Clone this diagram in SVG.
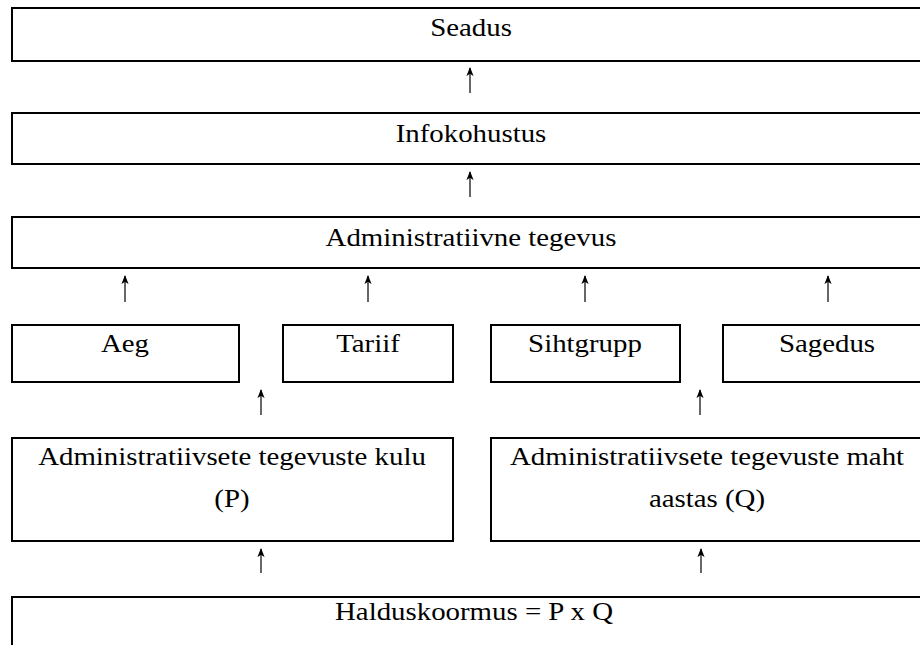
<svg xmlns="http://www.w3.org/2000/svg" width="920" height="645" viewBox="0 0 920 645">
<style>
.box{fill:#fff;stroke:#000;stroke-width:2}
.t{font-size:26px;fill:#000;text-anchor:middle}
.c line{stroke:#000;stroke-width:1.2;fill:none}
</style>
<defs>
<marker id="ah" viewBox="0 0 10 10" refX="9" refY="5" markerUnits="userSpaceOnUse" markerWidth="9" markerHeight="9" orient="auto">
<path d="M0,1 L10,5 L0,9 L2.5,5 Z" fill="#000"/>
</marker>
</defs>
<rect width="920" height="645" fill="#fff"/>
<g font-family="Liberation Serif, DejaVu Serif, serif">
<g id="seadus"><rect class="box" x="12" y="8" width="920" height="53"/><text class="t" transform="translate(471,36) scale(1.11,1)">Seadus</text></g>
<g id="infokohustus"><rect class="box" x="12" y="113" width="920" height="51"/><text class="t" transform="translate(471,142) scale(1.11,1)">Infokohustus</text></g>
<g id="admin"><rect class="box" x="12" y="217" width="920" height="51"/><text class="t" transform="translate(471,246) scale(1.11,1)">Administratiivne tegevus</text></g>
<g id="aeg"><rect class="box" x="12" y="325" width="227" height="57"/><text class="t" transform="translate(125,352) scale(1.11,1)">Aeg</text></g>
<g id="tariif"><rect class="box" x="283" y="325" width="170" height="57"/><text class="t" transform="translate(368,352) scale(1.11,1)">Tariif</text></g>
<g id="sihtgrupp"><rect class="box" x="491" y="325" width="189" height="57"/><text class="t" transform="translate(585,352) scale(1.11,1)">Sihtgrupp</text></g>
<g id="sagedus"><rect class="box" x="723" y="325" width="209" height="57"/><text class="t" transform="translate(827,352) scale(1.11,1)">Sagedus</text></g>
<g id="kulu"><rect class="box" x="12" y="438" width="441" height="103"/><text class="t" transform="translate(232,465) scale(1.11,1)">Administratiivsete tegevuste kulu</text><text class="t" transform="translate(232,507) scale(1.11,1)">(P)</text></g>
<g id="maht"><rect class="box" x="491" y="438" width="441" height="103"/><text class="t" transform="translate(707,465) scale(1.11,1)">Administratiivsete tegevuste maht</text><text class="t" transform="translate(707,507) scale(1.11,1)">aastas (Q)</text></g>
<g id="halduskoormus"><rect class="box" x="12" y="597" width="924" height="70"/><text class="t" transform="translate(474,620) scale(1.11,1)">Halduskoormus = P x Q</text></g>
</g>
<g id="connectors" class="c">
<line x1="470" y1="93" x2="470" y2="68" marker-end="url(#ah)"/>
<line x1="470" y1="197" x2="470" y2="172" marker-end="url(#ah)"/>
<line x1="125" y1="302" x2="125" y2="276" marker-end="url(#ah)"/>
<line x1="368" y1="302" x2="368" y2="276" marker-end="url(#ah)"/>
<line x1="585" y1="302" x2="585" y2="276" marker-end="url(#ah)"/>
<line x1="828" y1="302" x2="828" y2="276" marker-end="url(#ah)"/>
<line x1="261" y1="415" x2="261" y2="390" marker-end="url(#ah)"/>
<line x1="700" y1="415" x2="700" y2="390" marker-end="url(#ah)"/>
<line x1="261" y1="573" x2="261" y2="549" marker-end="url(#ah)"/>
<line x1="701" y1="573" x2="701" y2="549" marker-end="url(#ah)"/>
</g>
</svg>
